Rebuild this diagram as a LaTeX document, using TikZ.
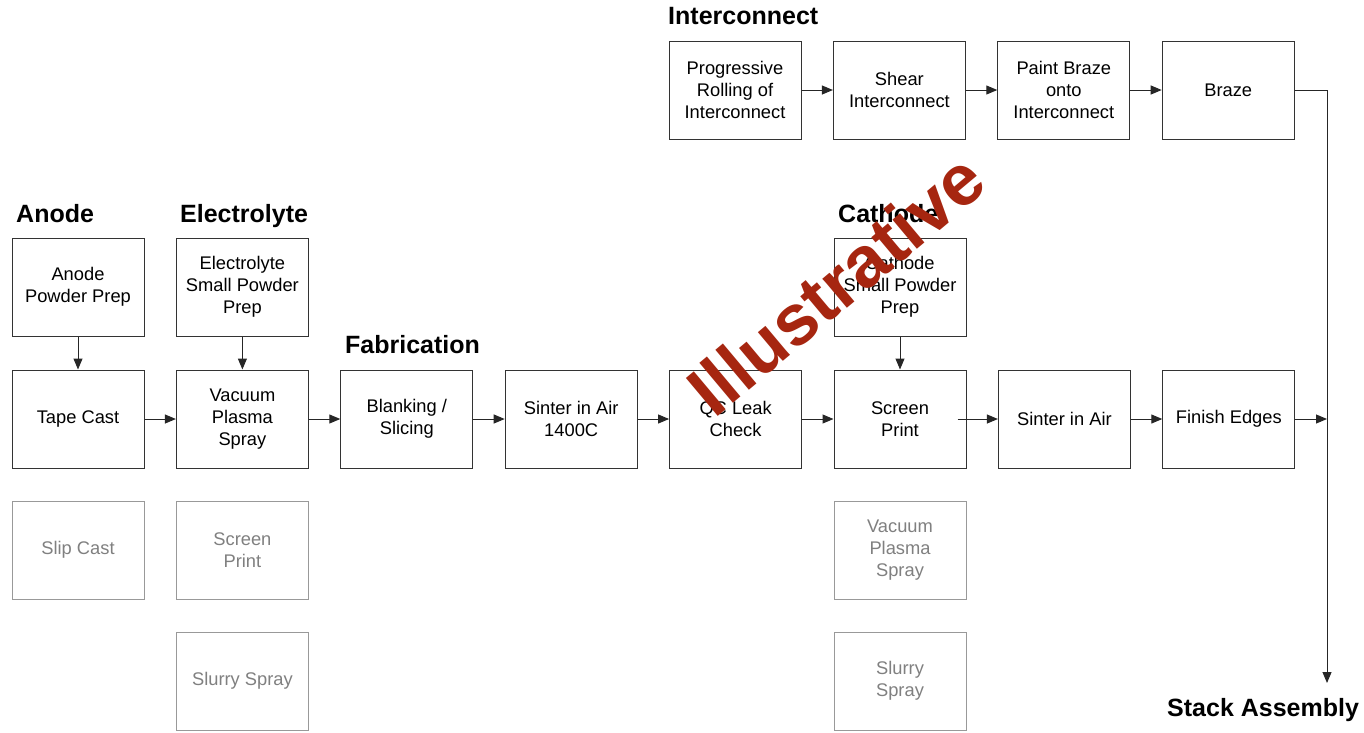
\documentclass[tikz,border=0pt]{standalone}
\usepackage{fontspec}
\setmainfont{Liberation Sans}
\usetikzlibrary{positioning}
\usetikzlibrary{arrows.meta}
\definecolor{stamp}{RGB}{166,38,16}
\tikzset{
	procbox/.style = {rectangle, draw=black!80, line width=1pt, fill=white,
		minimum width=132pt, minimum height=98pt, inner sep=0pt,
		align=center, font=\fontsize{18.3}{22}\selectfont},% etape du procede
	altbox/.style = {procbox, draw=black!40, text=black!50},% etape alternative
	grouplabel/.style = {anchor=base west, inner sep=0pt,
		font=\fontsize{25}{30}\selectfont\bfseries},% titre de groupe
	flow/.style = {-{Triangle[length=11pt,width=9pt]}, line width=1pt, black!85}
}

\begin{document}
\begin{tikzpicture}[x=1pt,y=-1pt,node distance=31.4pt]
		\useasboundingbox (0,0) rectangle (1364,732);
		% rangee principale
		\node[procbox] (tape) at (78,419) {Tape Cast};
		\node[procbox, right=of tape] (vps) {Vacuum\\Plasma\\Spray};
		\node[procbox, right=of vps] (blank) {Blanking /\\Slicing};
		\node[procbox, right=of blank] (sinter) {Sinter in Air\\1400C};
		\node[procbox, right=of sinter] (leak) {QC Leak\\Check};
		\node[procbox, right=of leak] (screen) {Screen\\Print};
		\node[procbox, right=of screen] (sinterb) {Sinter in Air};
		\node[procbox, right=of sinterb] (finish) {Finish Edges};
		% poudres
		\node[procbox, above=33pt of tape] (anprep) {Anode\\Powder Prep};
		\node[procbox, above=33pt of vps] (elprep) {Electrolyte\\Small Powder\\Prep};
		\node[procbox, above=33pt of screen] (caprep) {Cathode\\Small Powder\\Prep};
		% alternatives
		\node[altbox, below=32pt of tape] (slip) {Slip Cast};
		\node[altbox, below=32pt of vps] (elscreen) {Screen\\Print};
		\node[altbox, below=32pt of elscreen] (elslurry) {Slurry Spray};
		\node[altbox, below=32pt of screen] (cavps) {Vacuum\\Plasma\\Spray};
		\node[altbox, below=32pt of cavps] (caslurry) {Slurry\\Spray};
		% interconnect
		\node[procbox] (roll) at (735,90) {Progressive\\Rolling of\\Interconnect};
		\node[procbox, right=of roll] (shear) {Shear\\Interconnect};
		\node[procbox, right=of shear] (paint) {Paint Braze\\onto\\Interconnect};
		\node[procbox, right=of paint] (braze) {Braze};
		% titres
		\node[grouplabel] (tanode) at (16,222) {Anode};
		\node[grouplabel] (telec) at (180,222) {Electrolyte};
		\node[grouplabel] (tfab) at (345,353) {Fabrication};
		\node[grouplabel] (tcath) at (838,222) {Cathode};
		\node[grouplabel] (tinter) at (668,24) {Interconnect};
		\node[grouplabel] (tstack) at (1167,716) {Stack Assembly};
		\coordinate (turn) at (1327,90);
		\coordinate (join) at (1327,419);
		\coordinate (stackin) at (1327,683);
		% fleches
		\draw[flow] (anprep) -- (tape);
		\draw[flow] (elprep) -- (vps);
		\draw[flow] (caprep) -- (screen);
		\draw[flow] (tape) -- (vps);
		\draw[flow] (vps) -- (blank);
		\draw[flow] (blank) -- (sinter);
		\draw[flow] (sinter) -- (leak);
		\draw[flow] (leak) -- (screen);
		\draw[flow] ([xshift=-9pt]screen.east) -- (sinterb);
		\draw[flow] (sinterb) -- (finish);
		\draw[flow] (finish) -- (join);
		\draw[flow] (roll) -- (shear);
		\draw[flow] (shear) -- (paint);
		\draw[flow] (paint) -- (braze);
		\draw[flow] (braze.east) -- (turn) -- (stackin);
		% filigrane
		\node[text=stamp, rotate=40, inner sep=0pt,
			font=\fontsize{72}{80}\selectfont\bfseries] (stampmark) at (836,284) {Illustrative};
\end{tikzpicture}
\end{document}
